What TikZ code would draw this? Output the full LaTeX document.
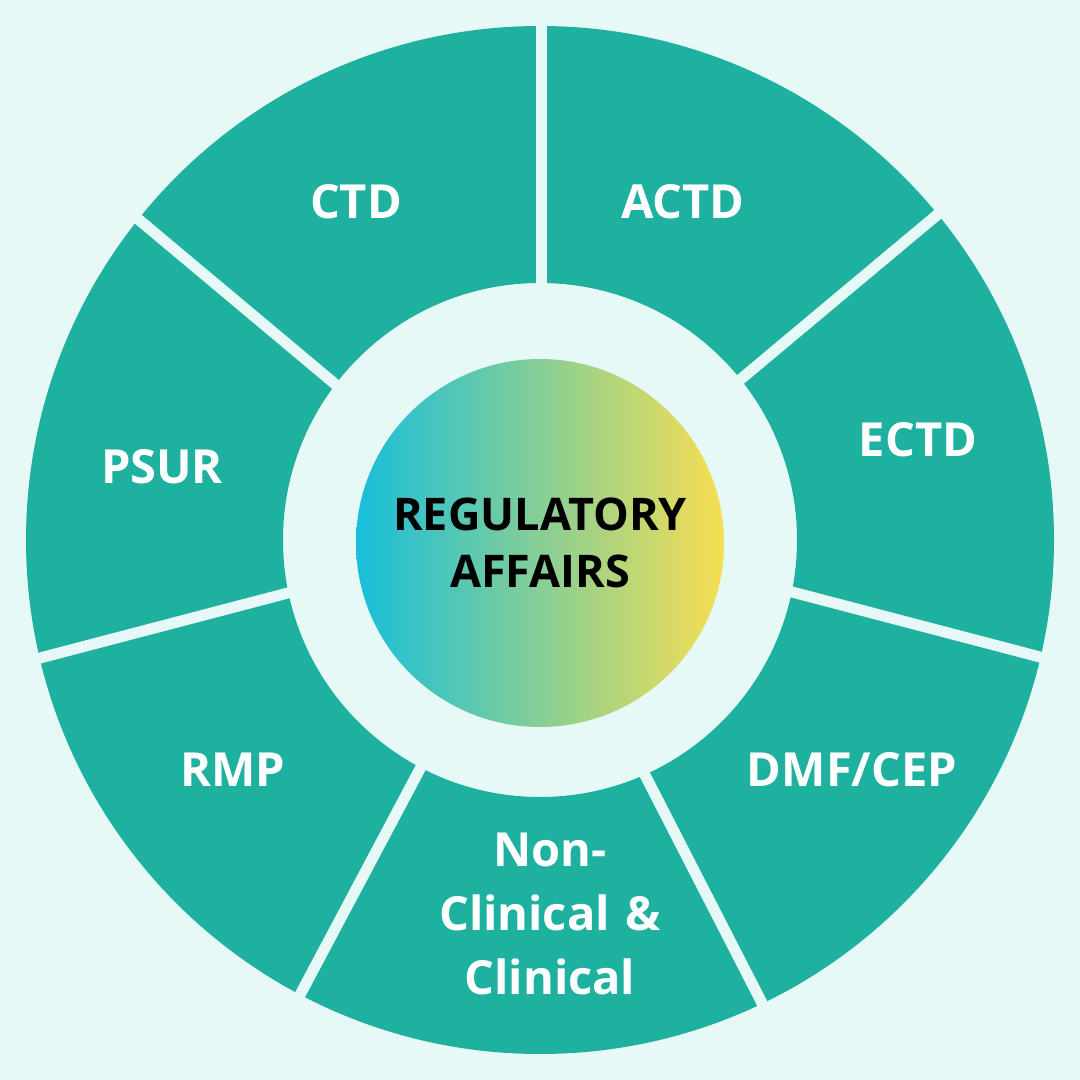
\documentclass[tikz,border=0pt]{standalone}
\usepackage{fontspec}
\usetikzlibrary{calc}
\setmainfont{Open Sans}
\definecolor{bg}{HTML}{E6F9F6}
\definecolor{seg}{HTML}{1FB19F}
\definecolor{cyanL}{HTML}{17BEDB}
\definecolor{yelR}{HTML}{F7DE52}
\begin{document}
\begin{tikzpicture}[x=1pt,y=1pt,
  lbl/.style={text=white,font=\fontsize{47}{64}\selectfont\bfseries,align=center,inner sep=0pt},
  ctr/.style={text=black,font=\fontsize{45}{57}\selectfont\bfseries,align=center,inner sep=0pt},
  gap/.style={draw=bg,line width=11pt}]
\fill[bg] (0,0) rectangle (1080,1080);
\useasboundingbox (0,0) rectangle (1080,1080);
\coordinate (c) at (540,540);
% ring
\fill[seg,even odd rule] (c) circle (514) (c) circle (257);
% gap end points (inner / outer), image coordinates flipped
\coordinate (g1i) at (541,797); \coordinate (g1o) at (541,1053);
\coordinate (g2i) at (741,701); \coordinate (g2o) at (937,865);
\coordinate (g3i) at (792,488); \coordinate (g3o) at (1040,423);
\coordinate (g4i) at (645,305); \coordinate (g4o) at (762,77);
\coordinate (g5i) at (421,313); \coordinate (g5o) at (301,87);
\coordinate (g6i) at (288,487); \coordinate (g6o) at (40,422);
\coordinate (g7i) at (335,696); \coordinate (g7o) at (138,861);
\foreach \g in {g1,g2,g3,g4,g5,g6,g7}{
  \draw[gap] ($(\g i)!-0.1!(\g o)$) -- ($(\g i)!1.1!(\g o)$);
}
% centre disc
\shade[left color=cyanL,right color=yelR,middle color={rgb,255:red,135;green,206;blue,150}] (540,537) circle (184);
% labels
\node[lbl] (ctd) at (356,878) {CTD};
\node[lbl] (actd) at (683,878) {ACTD};
\node[lbl] (ectd) at (918,640) {ECTD};
\node[lbl] (dmf) at (852,310) {DMF/CEP};
\node[lbl,text width=300pt] (ncl) at (550,166) {Non-\\Clinical \&\\Clinical};
\node[lbl] (rmp) at (233,310) {RMP};
\node[lbl] (psur) at (162,613) {PSUR};
\node[ctr] (ra) at (540,537) {REGULATORY\\AFFAIRS};
\end{tikzpicture}
\end{document}
